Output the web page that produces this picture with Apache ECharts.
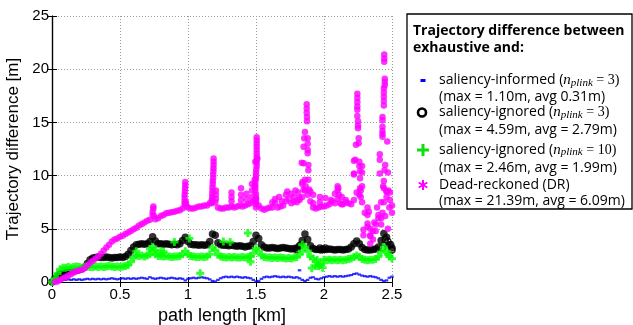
<!DOCTYPE html>
<html>
<head>
<meta charset="utf-8">
<script src="https://cdn.jsdelivr.net/npm/echarts@6/dist/echarts.min.js"></script>
<style>
  html, body { margin: 0; padding: 0; background: #fff; }
  #chart { width: 633px; height: 325px; }
</style>
</head>
<body>
<div id="chart"></div>
<script>
// Sample positions along the path [km]
const pathKm = [
  0.00, 0.02, 0.04, 0.06, 0.08, 0.10, 0.12, 0.14, 0.16, 0.18,
  0.20, 0.22, 0.24, 0.26, 0.28, 0.30, 0.32, 0.34, 0.36, 0.38,
  0.40, 0.42, 0.44, 0.46, 0.48, 0.50, 0.52, 0.54, 0.56, 0.58,
  0.60, 0.62, 0.64, 0.66, 0.68, 0.70, 0.72, 0.74, 0.76, 0.78,
  0.80, 0.82, 0.84, 0.86, 0.88, 0.90, 0.92, 0.94, 0.96, 0.98,
  1.00, 1.02, 1.04, 1.06, 1.08, 1.10, 1.12, 1.14, 1.16, 1.18,
  1.20, 1.22, 1.24, 1.26, 1.28, 1.30, 1.32, 1.34, 1.36, 1.38,
  1.40, 1.42, 1.44, 1.46, 1.48, 1.50, 1.52, 1.54, 1.56, 1.58,
  1.60, 1.62, 1.64, 1.66, 1.68, 1.70, 1.72, 1.74, 1.76, 1.78,
  1.80, 1.82, 1.84, 1.86, 1.88, 1.90, 1.92, 1.94, 1.96, 1.98,
  2.00, 2.02, 2.04, 2.06, 2.08, 2.10, 2.12, 2.14, 2.16, 2.18,
  2.20, 2.22, 2.24, 2.26, 2.28, 2.30, 2.32, 2.34, 2.36, 2.38,
  2.40, 2.42, 2.44, 2.46, 2.48, 2.50
];

// Trajectory difference [m] per method at each path position
const saliencyInformed = [
  0, 0.05, 0.1, 0.15, 0.2, 0.2, 0.25, 0.2, 0.25, 0.2,
  0.25, 0.2, 0.25, 0.3, 0.25, 0.3, 0.25, 0.3, 0.25, 0.3,
  0.25, 0.3, 0.35, 0.3, 0.25, 0.3, 0.35, 0.3, 0.35, 0.3,
  0.35, 0.3, 0.35, 0.4, 0.35, 0.3, 0.45, 0.35, 0.3, 0.35,
  0.4, 0.35, 0.3, 0.35, 0.4, 0.35, 0.3, 0.35, 0.3, 0.15,
  0.3, 0.35, 0.4, 0.35, 0.4, 0.45, 0.4, 0.35, 0.25, 0.1,
  0.05, 0.2, 0.35, 0.45, 0.5, 0.45, 0.5, 0.45, 0.5, 0.45,
  0.4, 0.45, 0.4, 0.35, 0.2, 0.05, 0.1, 0.3, 0.45, 0.5,
  0.45, 0.5, 0.55, 0.5, 0.45, 0.5, 0.45, 0.5, 0.45, 0.4,
  0.45, 0.35, 0.2, 0.1, 0.2, 0.4, 0.45, 0.3, 0.25, 0.35,
  0.45, 0.5, 0.55, 0.5, 0.55, 0.5, 0.55, 0.5, 0.55, 0.6,
  0.65, 0.75, 0.8, 0.7, 0.6, 0.55, 0.5, 0.55, 0.5, 0.45,
  0.35, 0.2, 0.1, 0.15, 0.4, 0.5
];
const saliencyInformedExtra = [[1.82, 1.1]];

const saliencyIgnored3 = [
  0, 0.3, 0.55, 0.75, 0.85, 0.95, 1.0, 1.0, 1.05, 1.1,
  1.15, 1.25, 1.4, 1.75, 2.1, 2.25, 2.3, 2.35, 2.3, 2.3,
  2.35, 2.3, 2.25, 2.3, 2.3, 2.35, 2.3, 2.4, 2.6, 2.95,
  3.3, 3.5, 3.55, 3.6, 3.55, 3.6, 3.8, 4.25, 3.85, 3.6,
  3.6, 3.55, 3.6, 3.55, 3.5, 3.55, 3.5, 3.6, 3.9, 4.2,
  3.8, 3.55, 3.5, 3.5, 3.45, 3.5, 3.45, 3.5, 3.8, 4.5,
  4.4, 3.7, 3.5, 3.45, 3.45, 3.4, 3.45, 3.4, 3.35, 3.4,
  3.35, 3.3, 3.35, 3.4, 3.8, 4.4, 4.1, 3.5, 3.3, 3.2,
  3.2, 3.25, 3.2, 3.15, 3.2, 3.25, 3.2, 3.15, 3.1, 3.15,
  3.2, 3.4, 3.9, 4.5, 4.0, 3.4, 3.15, 3.05, 3.05, 3.0,
  3.05, 3.05, 3.1, 3.05, 3.0, 3.05, 3.05, 3.0, 3.05, 3.1,
  3.3, 3.6, 3.85, 3.6, 3.25, 3.05, 3.0, 3.0, 3.05, 3.1,
  3.3, 3.9, 4.55, 4.2, 3.5, 3.2
];
const saliencyIgnored3Extra = [
  [1.80, 3.0], [1.83, 3.5], [1.97, 3.2], [1.99, 3.1], [2.01, 3.2],
  [2.43, 3.2], [2.45, 4.0], [2.47, 3.8], [2.49, 3.5], [2.50, 3.0]
];

const saliencyIgnored10 = [
  0, 0.3, 0.8, 1.2, 1.35, 1.35, 1.4, 1.35, 1.4, 1.45,
  1.4, 1.35, 1.4, 1.45, 1.4, 1.4, 1.45, 1.4, 1.45, 1.4,
  1.45, 1.5, 1.45, 1.4, 1.45, 1.4, 1.45, 1.5, 1.6, 1.9,
  2.3, 2.5, 2.45, 2.5, 2.4, 2.5, 2.6, 2.9, 2.6, 2.45,
  2.45, 2.4, 2.45, 2.4, 2.35, 2.4, 2.4, 2.45, 2.6, 2.9,
  2.6, 2.45, 2.4, 2.35, 2.35, 2.4, 2.35, 2.4, 2.6, 3.2,
  3.0, 2.55, 2.4, 2.35, 2.3, 2.35, 2.3, 2.35, 2.3, 2.3,
  2.35, 2.3, 2.35, 2.4, 2.7, 3.15, 2.9, 2.5, 2.35, 2.3,
  2.3, 2.25, 2.3, 2.25, 2.3, 2.25, 2.2, 2.25, 2.2, 2.3,
  2.35, 2.6, 2.9, 3.3, 2.9, 2.4, 2.2, 1.9, 1.5, 1.7,
  2.1, 2.05, 2.1, 2.05, 2.1, 2.05, 2.1, 2.05, 2.1, 2.15,
  2.2, 2.35, 2.5, 2.35, 2.15, 2.1, 2.05, 2.1, 2.1, 2.15,
  2.4, 2.8, 3.3, 2.9, 2.4, 2.2
];
const saliencyIgnored10Extra = [
  [0.62, 2.9], [0.72, 3.1], [0.74, 3.3], [0.76, 3.0], [0.80, 2.9],
  [0.82, 2.85], [0.90, 3.75], [1.01, 4.1], [1.09, 0.82], [1.26, 3.8],
  [1.31, 3.75], [1.44, 4.6], [1.46, 1.9], [1.84, 3.5], [1.91, 1.3],
  [1.94, 1.5], [1.95, 2.1], [1.97, 1.6], [1.99, 1.35], [2.47, 2.6]
];

const deadReckoned = [
  null, 0, 0.05, 0.2, 0.35, 0.45, 0.6, 0.75, 0.9, 1.0,
  1.1, 1.15, 1.3, 1.55, 1.8, 2.0, 2.2, 2.4, 2.65, 2.95,
  3.25, 3.5, 3.8, 4.0, 4.1, 4.25, 4.35, 4.5, 4.65, 4.8,
  4.95, 5.1, 5.3, 5.45, 5.6, 5.75, 5.85, 6.6, 5.9, 6.0,
  6.2, 6.3, 6.45, 6.5, 6.55, 6.6, 6.7, 6.75, 6.9, 7.3,
  7.0, 6.9, 6.9, 7.0, 7.1, 7.1, 7.2, 7.2, 7.4, 7.6,
  7.5, 7.0, 6.9, 6.9, 7.0, 7.0, 7.1, 7.0, 7.1, 7.2,
  7.1, 7.2, 7.3, 7.4, 7.6, 7.8, 7.2, 6.9, 6.8, 6.9,
  7.0, 7.0, 7.4, 7.0, 7.1, 7.2, 7.6, 7.8, 7.4, 7.6,
  7.5, 7.7, 8.0, 8.6, 8.2, 7.6, 7.0, 6.9, 7.0, 7.1,
  7.1, 7.2, 7.3, 7.6, 7.4, 7.8, 7.4, 7.3, 7.5, 7.4,
  7.3, 7.7, 8.4, 8.2, 7.5, 6.5, 5.2, 4.3, 4.8, 5.4,
  6.0, 7.5, 8.8, 8.5, 7.0, 7.2
];
// Dead-reckoned drift bursts (several readings at nearly the same position)
const deadReckonedBursts = [
  [0.74, 6.3], [0.745, 6.9], [0.745, 7.1], [0.75, 6.2],
  [0.975, 7.3], [0.975, 7.6], [0.975, 7.9], [0.975, 8.2], [0.978, 8.5], [0.978, 8.8],
  [0.98, 9.1], [0.98, 9.4], [0.985, 7.5], [0.99, 7.1],
  [1.175, 7.4], [1.175, 7.7], [1.178, 8.0], [1.178, 8.3], [1.18, 8.6], [1.18, 8.9],
  [1.182, 9.2], [1.182, 9.5], [1.185, 9.8], [1.185, 10.1], [1.187, 10.4], [1.187, 10.7],
  [1.188, 11.0], [1.188, 11.3], [1.188, 11.6], [1.205, 7.8], [1.205, 8.2], [1.205, 8.6],
  [1.32, 7.6], [1.32, 8.0], [1.32, 8.4], [1.39, 7.7], [1.39, 8.2], [1.39, 8.8],
  [1.43, 7.8], [1.43, 8.3], [1.47, 8.0], [1.47, 8.6], [1.47, 9.2],
  [1.50, 7.0], [1.50, 7.3], [1.50, 7.6], [1.50, 7.9], [1.50, 8.2], [1.495, 8.5],
  [1.495, 8.8], [1.495, 9.1], [1.495, 9.4], [1.50, 9.7], [1.50, 10.0], [1.50, 10.3],
  [1.502, 10.6], [1.505, 10.9], [1.505, 11.2], [1.505, 11.5], [1.505, 11.8], [1.505, 12.1],
  [1.505, 12.4], [1.505, 12.7], [1.505, 13.0], [1.505, 13.3], [1.505, 13.6],
  [1.49, 9.0], [1.49, 9.6], [1.495, 11.3], [1.51, 11.6],
  [1.62, 7.5], [1.64, 7.8], [1.67, 8.0], [1.69, 7.6], [1.72, 8.2], [1.73, 8.5],
  [1.76, 8.3], [1.78, 8.0], [1.79, 8.6], [1.81, 8.4], [1.82, 7.9],
  [1.873, 16.7], [1.873, 16.3], [1.873, 15.9], [1.875, 15.5], [1.875, 15.1], [1.86, 14.1],
  [1.855, 13.5], [1.88, 13.5], [1.88, 13.0], [1.85, 12.7], [1.88, 12.4], [1.88, 12.1],
  [1.85, 11.15], [1.885, 11.0], [1.885, 10.5], [1.885, 9.6], [1.842, 9.4], [1.89, 8.7],
  [1.836, 11.2], [1.86, 9.6], [1.865, 9.0], [1.85, 8.7], [1.84, 9.2],
  [1.90, 8.5], [1.92, 8.2], [1.92, 7.4], [1.97, 8.0], [1.97, 7.5], [2.01, 7.9],
  [2.05, 7.7], [2.08, 8.3], [2.10, 9.0], [2.10, 8.6], [2.11, 8.2], [2.13, 8.0],
  [2.13, 7.3], [2.16, 7.7], [2.105, 8.8],
  [2.245, 17.7], [2.245, 17.3], [2.245, 16.9], [2.245, 16.5], [2.245, 16.2], [2.245, 15.6],
  [2.25, 15.1], [2.25, 14.7], [2.25, 14.45], [2.255, 13.5], [2.255, 13.05], [2.235, 12.9],
  [2.22, 11.4], [2.26, 11.3], [2.26, 10.9], [2.22, 10.1], [2.265, 10.4], [2.265, 9.75],
  [2.265, 8.8], [2.23, 11.5], [2.28, 10.3], [2.28, 10.9], [2.27, 8.0], [2.27, 8.6],
  [2.28, 9.0], [2.22, 10.2],
  [2.32, 7.0], [2.32, 6.3], [2.32, 5.5], [2.34, 5.0], [2.34, 4.4], [2.34, 3.6],
  [2.29, 4.9], [2.29, 4.4], [2.37, 5.6], [2.38, 4.8], [2.39, 7.0], [2.40, 6.3],
  [2.36, 4.0], [2.33, 6.6],
  [2.443, 21.39], [2.443, 21.0], [2.443, 20.7], [2.447, 19.1], [2.447, 18.8], [2.447, 18.5],
  [2.44, 18.2], [2.44, 17.8], [2.44, 17.4], [2.44, 17.0], [2.44, 16.6], [2.43, 15.5],
  [2.43, 15.2], [2.43, 14.6], [2.43, 14.2], [2.43, 13.9], [2.43, 13.65], [2.465, 13.2],
  [2.41, 12.0], [2.41, 11.5], [2.41, 10.2], [2.473, 8.6], [2.47, 10.3], [2.485, 8.4],
  [2.485, 7.7], [2.46, 8.0], [2.46, 8.5], [2.44, 9.5], [2.445, 10.5], [2.45, 11.0],
  [2.435, 9.0], [2.44, 7.5], [2.43, 6.5], [2.42, 6.0], [2.42, 5.4], [2.45, 6.2],
  [2.47, 5.0], [2.50, 6.5]
];

// Axis ticks
const xTicks = [0, 0.5, 1, 1.5, 2, 2.5];
const yTicks = [0, 5, 10, 15, 20, 25];

// Legend text
const legendTitle = ['Trajectory difference between', 'exhaustive and:'];
const legendStats = [
  '(max = 1.10m, avg 0.31m)',
  '(max = 4.59m, avg = 2.79m)',
  '(max = 2.46m, avg = 1.99m)',
  '(max = 21.39m, avg = 6.09m)'
];

const pairs = (ys) => pathKm.map((x, i) => [x, ys[i]]).filter(p => p[1] !== null);

const SANS = 'Liberation Sans, Arial, Helvetica, sans-serif';
const LEG = 'Open Sans, sans-serif';
const SERIF = 'Liberation Serif, Times New Roman, serif';

const gridLine = { show: true, lineStyle: { color: '#9a9a9a', width: 1, type: [1, 2] } };
const frameLine = { show: true, lineStyle: { color: '#000', width: 1.2 } };
const inTick = { show: true, inside: true, length: 5, lineStyle: { color: '#000', width: 1 } };

const xRange = { min: xTicks[0], max: xTicks[xTicks.length - 1], interval: xTicks[1] - xTicks[0] };
const yRange = { min: yTicks[0], max: yTicks[yTicks.length - 1], interval: yTicks[1] - yTicks[0] };

// Plus marker with fairly heavy arms
const plusPath = 'path://M1.6,0H3.4V1.6H5V3.4H3.4V5H1.6V3.4H0V1.6H1.6Z';

const chart = echarts.init(document.getElementById('chart'), null, { renderer: 'canvas' });

// Legend rows: icon + rich label lines
const rich = {
  r: { fontFamily: LEG, fontSize: 14, color: '#000' },
  n: { fontFamily: SERIF, fontStyle: 'italic', fontSize: 15, color: '#000' },
  s: { fontFamily: SERIF, fontStyle: 'italic', fontSize: 11, color: '#000', padding: [5, 0, 0, 0] },
  m: { fontFamily: SERIF, fontSize: 14, color: '#000' }
};
const nLabel = (name, k) => `{r|${name} (}{n|n}{s|plink}{m| = ${k})}`;
const legendLines = [
  { y: 80.5, text: nLabel('saliency-informed', 3) },
  { y: 97, text: `{r|${legendStats[0]}}` },
  { y: 112.5, text: nLabel('saliency-ignored', 3) },
  { y: 130.5, text: `{r|${legendStats[1]}}` },
  { y: 150, text: nLabel('saliency-ignored', 10) },
  { y: 168, text: `{r|${legendStats[2]}}` },
  { y: 185, text: '{r|Dead-reckoned (DR)}' },
  { y: 201.5, text: `{r|${legendStats[3]}}` }
];

const graphics = [
  { type: 'rect', z: 100, shape: { x: 407, y: 14, width: 225, height: 195 },
    style: { fill: '#fff', stroke: '#000', lineWidth: 1.3 } },
  { type: 'text', z: 101, style: { x: 413, y: 31, text: legendTitle[0], fill: '#000',
    font: 'bold 14px ' + LEG, verticalAlign: 'middle' } },
  { type: 'text', z: 101, style: { x: 413, y: 48, text: legendTitle[1], fill: '#000',
    font: 'bold 14px ' + LEG, verticalAlign: 'middle' } },
  // icons
  { type: 'rect', z: 101, shape: { x: 420.5, y: 79, width: 5, height: 3 }, style: { fill: '#0000ff' } },
  { type: 'circle', z: 101, shape: { cx: 422, cy: 112.5, r: 4 }, style: { fill: 'none', stroke: '#000', lineWidth: 2.6 } },
  { type: 'rect', z: 101, shape: { x: 417, y: 148.5, width: 12, height: 3 }, style: { fill: '#11dd11' } },
  { type: 'rect', z: 101, shape: { x: 421.5, y: 144, width: 3, height: 12 }, style: { fill: '#11dd11' } },
  { type: 'line', z: 101, shape: { x1: 423, y1: 180, x2: 423, y2: 190 }, style: { stroke: '#ff00ff', lineWidth: 2 } },
  { type: 'line', z: 101, shape: { x1: 418.7, y1: 182.5, x2: 427.3, y2: 187.5 }, style: { stroke: '#ff00ff', lineWidth: 2 } },
  { type: 'line', z: 101, shape: { x1: 418.7, y1: 187.5, x2: 427.3, y2: 182.5 }, style: { stroke: '#ff00ff', lineWidth: 2 } }
];
legendLines.forEach(l => {
  graphics.push({ type: 'text', z: 101, style: { x: 439, y: l.y, text: l.text, rich: rich, verticalAlign: 'middle' } });
});

chart.setOption({
  animation: false,
  backgroundColor: '#fff',
  textStyle: { fontFamily: SANS },
  grid: { left: 52, top: 16, right: 241, bottom: 43, show: false, containLabel: false, outerBoundsMode: 'none' },
  xAxis: [
    Object.assign({
      type: 'value', position: 'bottom',
      axisLine: frameLine, axisTick: inTick, splitLine: gridLine,
      axisLabel: { color: '#000', fontSize: 15, margin: 5, fontFamily: SANS },
      name: 'path length [km]', nameLocation: 'middle', nameGap: 17,
      nameTextStyle: { color: '#000', fontSize: 18, fontFamily: SANS }
    }, xRange),
    Object.assign({
      type: 'value', position: 'top',
      axisLine: frameLine, axisTick: inTick, splitLine: { show: false }, axisLabel: { show: false }
    }, xRange)
  ],
  yAxis: [
    Object.assign({
      type: 'value', position: 'left',
      axisLine: frameLine, axisTick: inTick, splitLine: gridLine,
      axisLabel: { color: '#000', fontSize: 15, margin: 3, fontFamily: SANS },
      name: 'Trajectory difference [m]', nameLocation: 'middle', nameGap: 15,
      nameTextStyle: { color: '#000', fontSize: 17, fontFamily: SANS }
    }, yRange),
    Object.assign({
      type: 'value', position: 'right',
      axisLine: frameLine, axisTick: inTick, splitLine: { show: false }, axisLabel: { show: false }
    }, yRange)
  ],
  series: [
    {
      name: 'saliency-informed', type: 'scatter', symbol: 'rect', symbolSize: [3.5, 2.2],
      itemStyle: { color: '#0000ff' },
      data: pairs(saliencyInformed).concat(saliencyInformedExtra)
    },
    {
      name: 'saliency-ignored 3', type: 'scatter', symbol: 'circle', symbolSize: 7.5,
      itemStyle: { color: '#000' },
      data: pairs(saliencyIgnored3)
    },
    {
      name: 'saliency-ignored 3 (sparse)', type: 'scatter', symbol: 'circle', symbolSize: 6,
      itemStyle: { color: 'rgba(0,0,0,0)', borderColor: '#000', borderWidth: 1.6 },
      data: saliencyIgnored3Extra
    },
    {
      name: 'saliency-ignored 10', type: 'scatter', symbol: plusPath, symbolSize: 8,
      itemStyle: { color: '#00ff00' },
      data: pairs(saliencyIgnored10).concat(saliencyIgnored10Extra)
    },
    {
      name: 'Dead-reckoned (DR)', type: 'scatter', symbol: 'circle', symbolSize: 6.5,
      itemStyle: { color: '#ff00ff' },
      data: pairs(deadReckoned).concat(deadReckonedBursts)
    }
  ],
  graphic: graphics
});
</script>
</body>
</html>
